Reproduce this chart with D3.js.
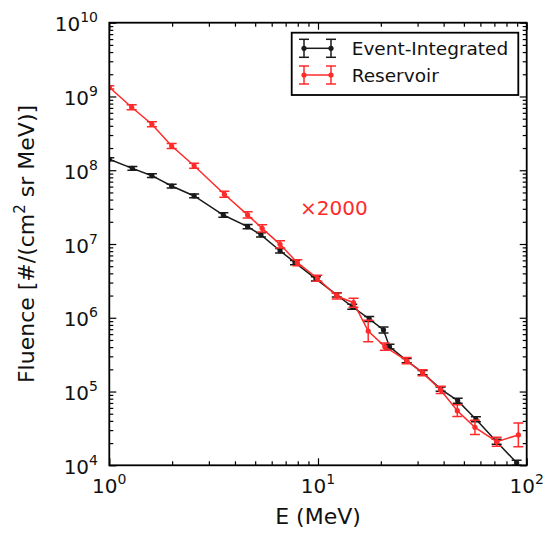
<!DOCTYPE html>
<html><head><meta charset="utf-8">
<script src="https://cdn.jsdelivr.net/npm/d3@7"></script>
<style>body{margin:0;background:#fff} text{font-family:"DejaVu Sans",sans-serif}</style>
</head><body><svg id="c" width="545" height="533"></svg>
<script>
// ---- data ----
const seriesNames = ["Event-Integrated", "Reservoir"];
const eventE = [1.0,1.29,1.6,1.99,2.55,3.52,4.6,5.33,6.58,7.76,9.77,12.3,14.6,17.6,20.6,22.0,26.6,31.7,38.7,46.7,57.1,71.8,89.5];
const eventF = [1.41e8,1.06e8,8.43e7,6.11e7,4.48e7,2.47e7,1.72e7,1.33e7,8.11e6,5.58e6,3.36e6,2.04e6,1.41e6,9.63e5,6.84e5,4.06e5,2.62e5,1.8e5,1.08e5,7.52e4,4.21e4,2.09e4,1.08e4];
const eventErr = [0.05,0.06,0.06,0.06,0.06,0.07,0.07,0.07,0.07,0.07,0.07,0.07,0.08,0.08,0.1,0.08,0.07,0.07,0.07,0.08,0.08,0.08,0.08];
// Reservoir fluence as plotted (already multiplied by 2000)
const resE = [1.0,1.28,1.6,1.99,2.55,3.56,4.6,5.4,6.58,7.96,9.93,12.3,14.8,17.4,20.9,26.6,31.7,38.7,46.5,56.5,71.8,91.2];
const resF = [1.33e9,7.13e8,4.2e8,2.13e8,1.15e8,4.72e7,2.48e7,1.63e7,9.9e6,5.58e6,3.43e6,1.97e6,1.6e6,6.6e5,4.06e5,2.62e5,1.8e5,1.05e5,5.5e4,3.27e4,2.09e4,2.58e4];
const resErr = [0.05,0.08,0.08,0.08,0.08,0.1,0.1,0.12,0.12,0.1,0.1,0.1,0.15,0.4,0.12,0.1,0.1,0.12,0.2,0.25,0.15,0.45];
const scaleNote = "\u00d72000";
const xTickExps = [0,1,2];
const yTickExps = [4,5,6,7,8,9,10];
const xLabel = "E (MeV)";
const yLabelMain = "Fluence [#/(cm";
const yLabelSup = "2";
const yLabelEnd = " sr MeV)]";

// ---- layout ----
const L=109.3, R=526.7, T=22.7, B=465.3;
const BLACK="#1a1a1a", RED="#ff2a2a";
const svg = d3.select("#c");
const x = d3.scaleLog().domain([1,100]).range([L,R]);
const y = d3.scaleLog().domain([1e4,1e10]).range([B,T]);

const majX = xTickExps.map(e=>Math.pow(10,e));
const majY = yTickExps.map(e=>Math.pow(10,e));
const minX=[], minY=[];
for (let e=0;e<2;e++) for (let k=2;k<10;k++) minX.push(k*Math.pow(10,e));
for (let e=4;e<10;e++) for (let k=2;k<10;k++) minY.push(k*Math.pow(10,e));

function axisG(axis, tx, ty){
  const g = svg.append("g").attr("transform",`translate(${tx},${ty})`).call(axis);
  g.select(".domain").remove();
  g.selectAll("text").remove();
  g.selectAll("line").attr("stroke","#000").attr("stroke-width",1.2);
  return g;
}
const MJ=7, MN=4;
axisG(d3.axisBottom(x).tickValues(majX).tickSize(-MJ),0,B);
axisG(d3.axisBottom(x).tickValues(minX).tickSize(-MN),0,B);
axisG(d3.axisTop(x).tickValues(majX).tickSize(-MJ),0,T);
axisG(d3.axisTop(x).tickValues(minX).tickSize(-MN),0,T);
axisG(d3.axisLeft(y).tickValues(majY).tickSize(-MJ),L,0);
axisG(d3.axisLeft(y).tickValues(minY).tickSize(-MN),L,0);
axisG(d3.axisRight(y).tickValues(majY).tickSize(-MJ),R,0);
axisG(d3.axisRight(y).tickValues(minY).tickSize(-MN),R,0);

// tick labels
xTickExps.forEach(e=>{
  const t = svg.append("text").attr("x",x(Math.pow(10,e))).attr("y",B+28)
    .attr("text-anchor","middle").attr("font-size",20).attr("fill","#111");
  t.append("tspan").text("10");
  t.append("tspan").attr("font-size",14).attr("dy",-9).text(e);
});
yTickExps.forEach(e=>{
  const t = svg.append("text").attr("x",98).attr("y",y(Math.pow(10,e))+8.5)
    .attr("text-anchor","end").attr("font-size",20).attr("fill","#111");
  t.append("tspan").text("10");
  t.append("tspan").attr("font-size",14).attr("dy",-9).text(e);
});

// axis labels
svg.append("text").attr("x",(L+R)/2).attr("y",524).attr("text-anchor","middle")
  .attr("font-size",22).attr("fill","#111").text(xLabel);
const yl = svg.append("text").attr("transform",`translate(34,${(T+B)/2}) rotate(-90)`)
  .attr("text-anchor","middle").attr("font-size",22).attr("fill","#111");
yl.append("tspan").text(yLabelMain);
yl.append("tspan").attr("font-size",15).attr("dy",-9).text(yLabelSup);
yl.append("tspan").attr("dy",9).text(yLabelEnd);

// data
const clip = svg.append("clipPath").attr("id","pc").append("rect")
  .attr("x",L).attr("y",T).attr("width",R-L).attr("height",B-T);
const plot = svg.append("g").attr("clip-path","url(#pc)");
function drawSeries(E,F,Err,color){
  const pts = E.map((e,i)=>({e,f:F[i],err:Err[i]}));
  const g = plot.append("g");
  g.append("path").datum(pts)
    .attr("d",d3.line().x(d=>x(d.e)).y(d=>y(d.f)))
    .attr("fill","none").attr("stroke",color).attr("stroke-width",1.5);
  const eb = g.selectAll(".eb").data(pts).enter().append("g");
  eb.append("line").attr("x1",d=>x(d.e)).attr("x2",d=>x(d.e))
    .attr("y1",d=>y(d.f*(1+d.err))).attr("y2",d=>y(d.f/(1+d.err)))
    .attr("stroke",color).attr("stroke-width",1.5);
  [d=>d.f*(1+d.err), d=>d.f/(1+d.err)].forEach(fn=>{
    eb.append("line").attr("x1",d=>x(d.e)-5).attr("x2",d=>x(d.e)+5)
      .attr("y1",d=>y(fn(d))).attr("y2",d=>y(fn(d)))
      .attr("stroke",color).attr("stroke-width",1.5);
  });
  g.selectAll(".m").data(pts).enter().append("circle")
    .attr("cx",d=>x(d.e)).attr("cy",d=>y(d.f)).attr("r",2.6).attr("fill",color);
}
drawSeries(eventE,eventF,eventErr,BLACK);
drawSeries(resE,resF,resErr,RED);

// frame
svg.append("rect").attr("x",L).attr("y",T).attr("width",R-L).attr("height",B-T)
  .attr("fill","none").attr("stroke","#000").attr("stroke-width",1.8);

// note
svg.append("text").attr("x",300).attr("y",215).attr("font-size",20).attr("fill",RED).text(scaleNote);

// legend
const lg = svg.append("g");
lg.append("rect").attr("x",291.7).attr("y",32.7).attr("width",226.6).attr("height",62.3)
  .attr("fill","#fff").attr("stroke","#000").attr("stroke-width",1.8);
[BLACK,RED].forEach((c,i)=>{
  const cy = [48.3,75][i];
  lg.append("line").attr("x1",304).attr("x2",331).attr("y1",cy).attr("y2",cy)
    .attr("stroke",c).attr("stroke-width",1.5);
  [304,331].forEach(cx=>{
    lg.append("line").attr("x1",cx).attr("x2",cx).attr("y1",cy-9).attr("y2",cy+9).attr("stroke",c).attr("stroke-width",1.5);
    lg.append("line").attr("x1",cx-5).attr("x2",cx+5).attr("y1",cy-9).attr("y2",cy-9).attr("stroke",c).attr("stroke-width",1.5);
    lg.append("line").attr("x1",cx-5).attr("x2",cx+5).attr("y1",cy+9).attr("y2",cy+9).attr("stroke",c).attr("stroke-width",1.5);
    lg.append("circle").attr("cx",cx).attr("cy",cy).attr("r",2.6).attr("fill",c);
  });
  lg.append("text").attr("x",351.7).attr("y",cy+6.5).attr("font-size",18.5).attr("fill","#111").text(seriesNames[i]);
});
</script></body></html>
